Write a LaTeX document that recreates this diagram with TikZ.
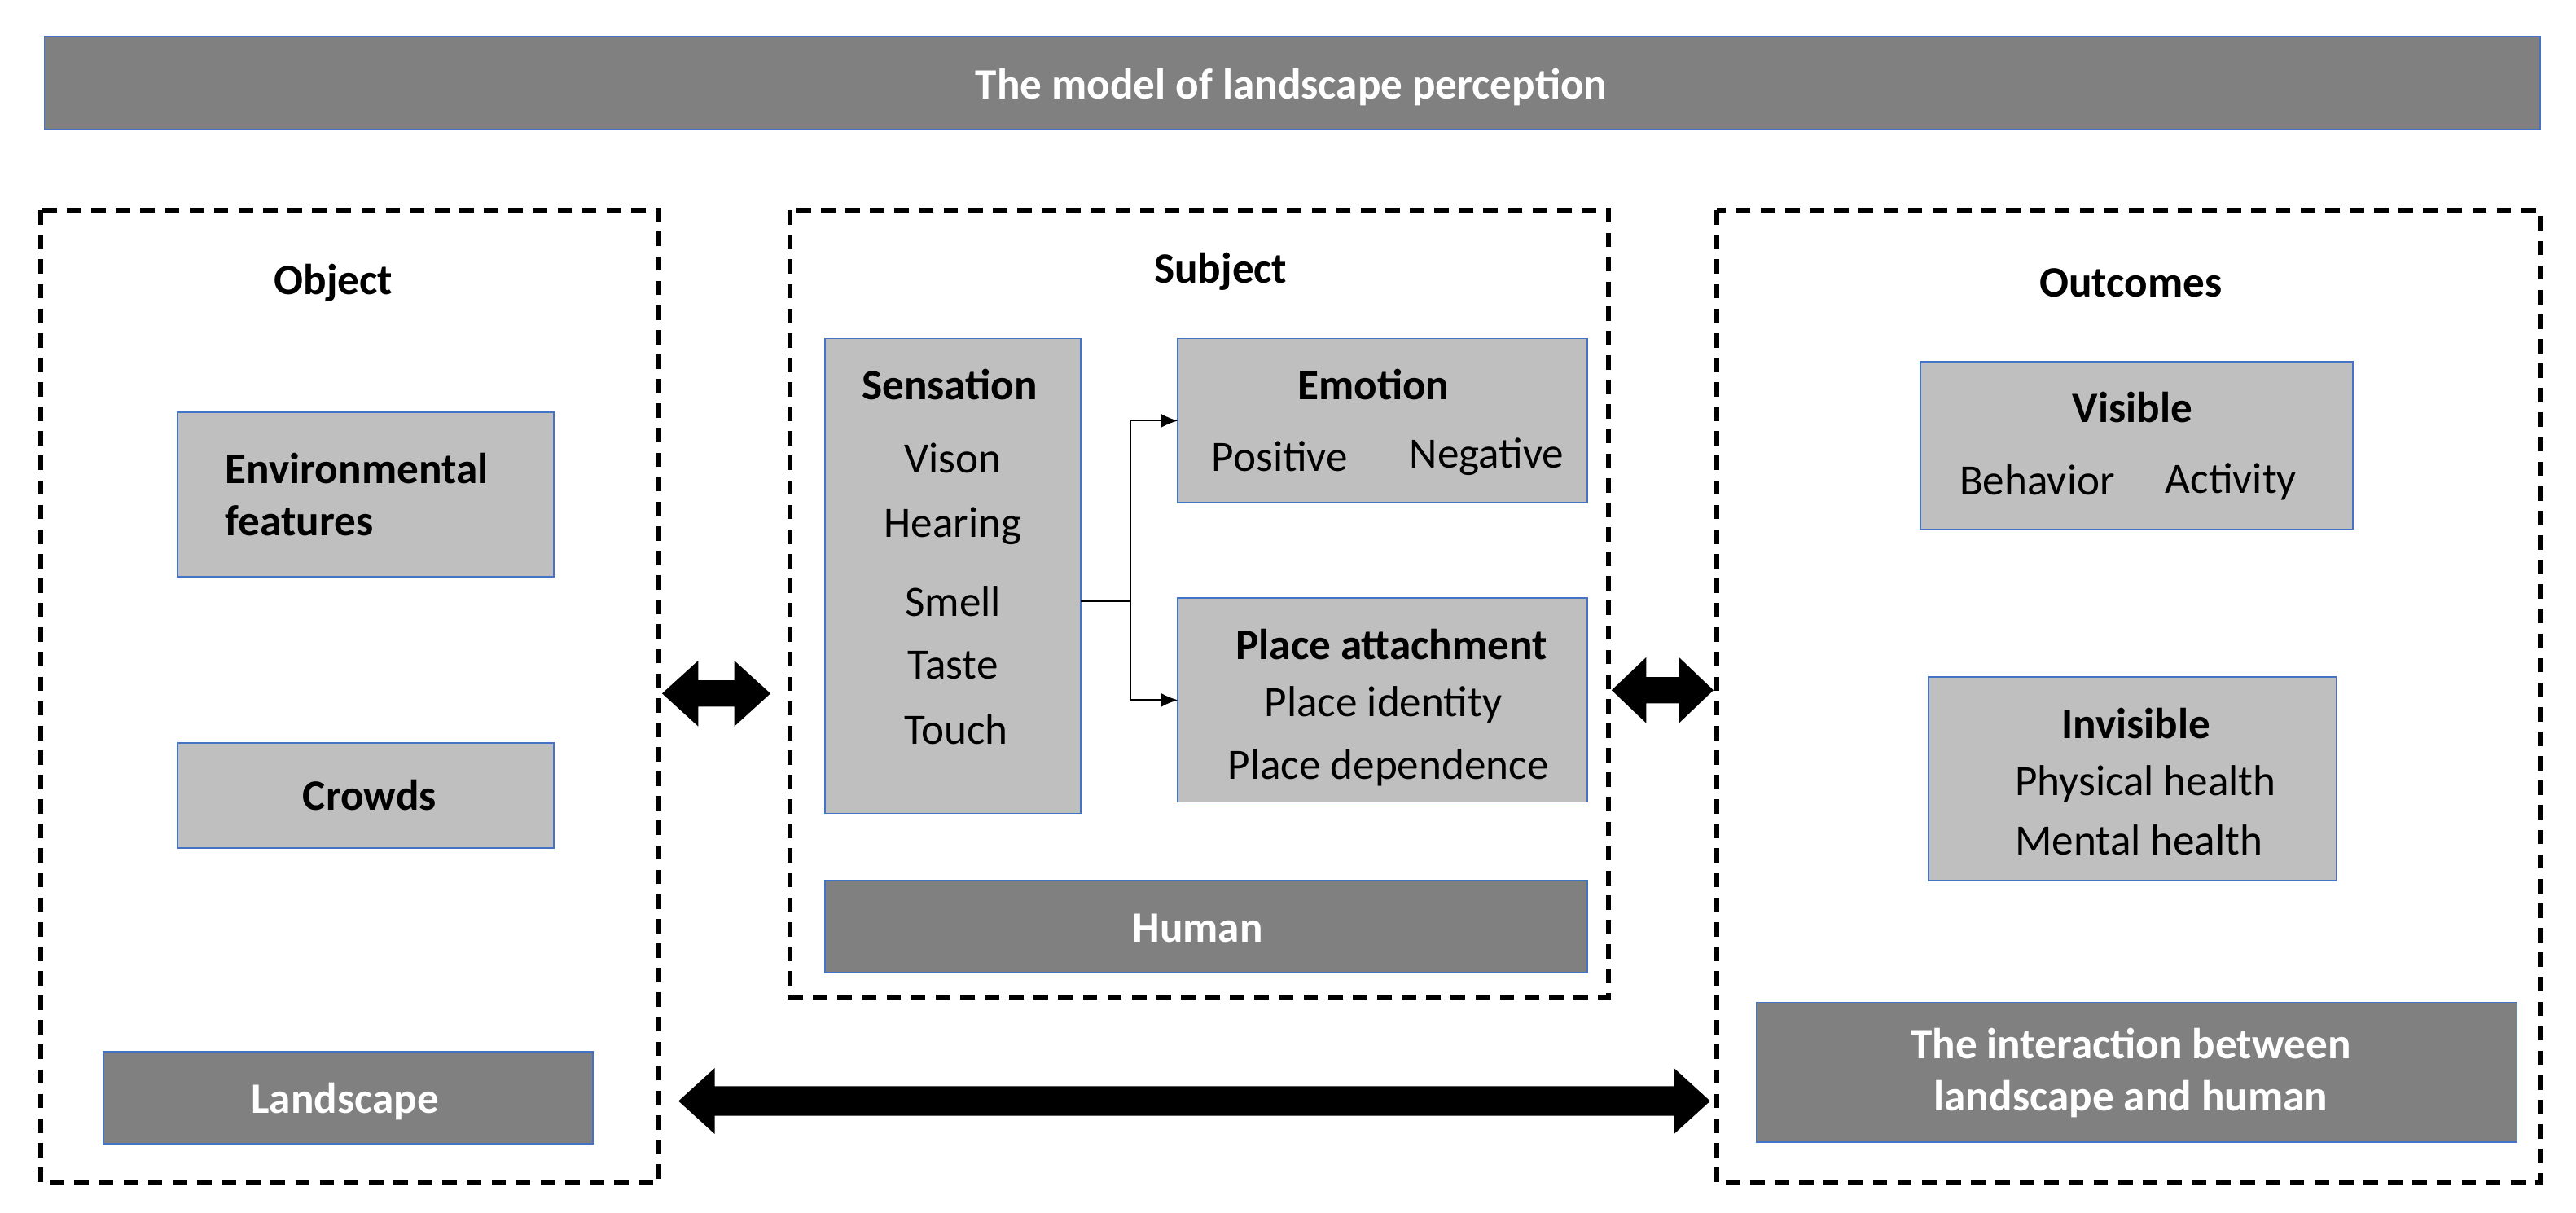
\documentclass[tikz,border=0pt]{standalone}
\usepackage{fontspec}
\setmainfont{Carlito}
\usetikzlibrary{arrows.meta}
\begin{document}
\begin{tikzpicture}[x=0.02cm,y=-0.02cm,
  every node/.style={font=\fontsize{15}{18}\selectfont},
  lbox/.style={draw={rgb,255:red,68;green,114;blue,196},line width=0.5pt,fill={rgb,255:red,191;green,191;blue,191}},
  dbox/.style={draw={rgb,255:red,68;green,114;blue,196},line width=0.5pt,fill={rgb,255:red,128;green,128;blue,128}},
  dframe/.style={draw=black,line width=1.7pt,dash pattern=on 5pt off 3.5pt},
  wt/.style={text=white,font=\fontsize{15}{18}\selectfont\bfseries,align=center},
  bt/.style={font=\fontsize{15}{18}\selectfont\bfseries},
  conn/.style={draw=black,line width=0.6pt},
  tip/.style={-{Latex[length=6pt,width=5pt]}}]
\useasboundingbox (0,0) rectangle (1568,738);
% title
\draw[dbox] (27,22) rectangle (1546,79);
\node[wt] (title) at (786,53) {The model of landscape perception};
% dashed frames
\draw[dframe] (25,128) rectangle (401,720);
\draw[dframe] (481,128) rectangle (979,607);
\draw[dframe] (1045,128) rectangle (1546,720);
\node[bt] (obj) at (203,172) {Object};
\node[bt] (subj) at (743,165) {Subject};
\node[bt] (out) at (1297,172) {Outcomes};
% object
\draw[lbox] (108,251) rectangle (337,351);
\node[bt,align=left,anchor=west] (env) at (131,301) {Environmental\\features};
\draw[lbox] (108,452) rectangle (337,516);
\node[bt] (crowds) at (225,484) {Crowds};
\draw[dbox] (63,640) rectangle (361,696);
\node[wt] (land) at (210,670) {Landscape};
% subject
\draw[lbox] (502,206) rectangle (658,495);
\node[bt] (sens) at (578,234) {Sensation};
\node (v1) at (580,279) {Vison};
\node (v2) at (580,320) {Hearing};
\node (v3) at (580,366) {Smell};
\node (v4) at (580,405) {Taste};
\node (v5) at (582,444) {Touch};
\coordinate (sr) at (658,366);
\coordinate (jn) at (688,366);
\draw[lbox] (717,206) rectangle (966,306);
\node[bt] (emo) at (836,234) {Emotion};
\node (pos) at (779,278) {Positive};
\node (neg) at (905,278) {Negative};
\coordinate (el) at (717,256);
\draw[lbox] (717,364) rectangle (966,488);
\node[bt] (pa) at (847,392) {Place attachment};
\node (pi) at (842,429) {Place identity};
\node (pd) at (845,467) {Place dependence};
\coordinate (pl) at (717,426);
\draw[conn] (sr) -- (jn);
\draw[conn,tip] (jn) |- (el);
\draw[conn,tip] (jn) |- (pl);
\draw[dbox] (502,536) rectangle (966,592);
\node[wt] (human) at (729,565) {Human};
% outcomes
\draw[lbox] (1169,220) rectangle (1432,322);
\node[bt] (vis) at (1298,248) {Visible};
\node (beh) at (1240,292) {Behavior};
\node (act) at (1358,293) {Activity};
\draw[lbox] (1174,412) rectangle (1422,536);
\node[bt] (inv) at (1300,440) {Invisible};
\node (ph) at (1306,477) {Physical health};
\node (mh) at (1302,511) {Mental health};
\draw[dbox] (1069,610) rectangle (1532,695);
\node[wt] (inter) at (1297,653) {The interaction between\\landscape and human};
% fat arrows
\fill (403,422) -- (425,402) -- (425,414) -- (447,414) -- (447,402) -- (469,422) -- (447,442) -- (447,430) -- (425,430) -- (425,442) -- cycle;
\fill (981,420) -- (1002,400) -- (1002,412) -- (1022,412) -- (1022,400) -- (1043,420) -- (1022,440) -- (1022,428) -- (1002,428) -- (1002,440) -- cycle;
\fill (413,670) -- (435,650) -- (435,661) -- (1019,661) -- (1019,650) -- (1041,670) -- (1019,690) -- (1019,679) -- (435,679) -- (435,690) -- cycle;
\end{tikzpicture}
\end{document}
